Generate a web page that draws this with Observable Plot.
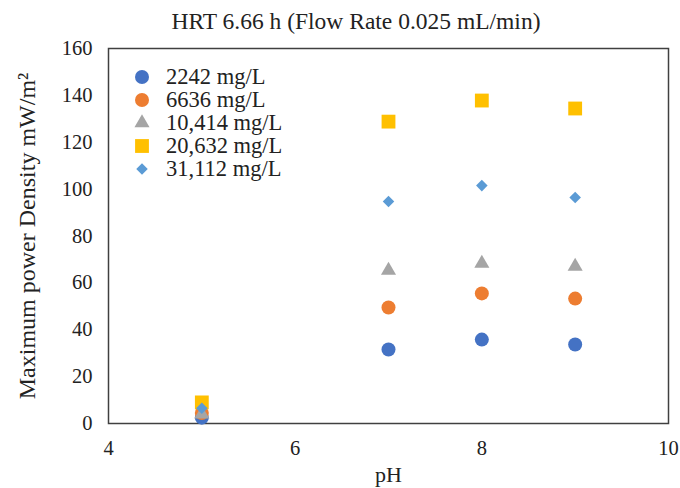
<!DOCTYPE html>
<html><head><meta charset="utf-8">
<script src="https://cdn.jsdelivr.net/npm/d3@7"></script>
<script src="https://cdn.jsdelivr.net/npm/@observablehq/plot@0.6"></script>
<style>
body{margin:0;background:#fff;font-family:"Liberation Serif","DejaVu Serif",serif;}
#wrap{position:relative;width:680px;height:488px;}
#chart{position:absolute;left:0;top:20px;}
#title{position:absolute;left:56px;width:600px;top:8px;text-align:center;font-size:23.5px;color:#222;}
#legend{position:absolute;left:130px;top:65px;font-size:22.5px;color:#222;}
.item{height:23.2px;display:flex;align-items:center;}
.item svg{width:24px;height:18px;margin-right:12px;}
g[aria-label="y-axis label"] text{font-size:24px;}
g[aria-label="x-axis label"] text{font-size:22px;}
</style></head>
<body><div id="wrap"><div id="chart"></div><div id="title">HRT 6.66 h (Flow Rate 0.025 mL/min)</div><div id="legend"></div></div>
<script>
const pH = [5, 7, 8, 9];
const series = ["2242 mg/L", "6636 mg/L", "10,414 mg/L", "20,632 mg/L", "31,112 mg/L"];
const v2242 = [2.5, 31.6, 35.8, 33.7];
const v6636 = [4.5, 49.5, 55.5, 53.3];
const v10414 = [4, 65.3, 68.3, 67];
const v20632 = [9, 128.8, 137.8, 134.4];
const v31112 = [6.5, 94.7, 101.5, 96.4];
const colors = ["#4472C4", "#ED7D31", "#A5A5A5", "#FFC000", "#5B9BD5"];
const symbols = ["circle", "circle", "triangle", "square", "diamond2"];
const radii = [7, 7, 5.6, 7.8, 5.2];
const xTicks = [4, 6, 8, 10];
const yTicks = [0, 20, 40, 60, 80, 100, 120, 140, 160];

const vals = [v2242, v6636, v10414, v20632, v31112];
const data = [];
series.forEach((s, i) => pH.forEach((p, j) => data.push({series: s, idx: i, pH: p, value: vals[i][j]})));

const marks = [Plot.frame({stroke: "#404040", strokeWidth: 1.5})];
series.forEach((s, i) => {
  marks.push(Plot.dot(data.filter(d => d.idx === i), {x: "pH", y: "value", symbol: () => symbols[i], r: radii[i], fill: colors[i], stroke: "none"}));
});

const chart = Plot.plot({
  width: 680, height: 468,
  marginLeft: 108, marginRight: 12, marginTop: 28, marginBottom: 65,
  style: {fontFamily: "Liberation Serif, DejaVu Serif, serif", fontSize: "20.5px", color: "#222", background: "transparent"},
  symbol: {type: "identity"},
  x: {domain: [4, 10], ticks: xTicks, tickFormat: d => String(d), tickSize: 0, tickPadding: 17, label: "pH", labelAnchor: "center", labelArrow: "none", labelOffset: 58},
  y: {domain: [0, 160], ticks: yTicks, tickSize: 0, tickPadding: 16, label: "Maximum power Density mW/m²", labelAnchor: "center", labelArrow: "none", labelOffset: 91},
  marks
});
document.getElementById("chart").appendChild(chart);

const leg = document.getElementById("legend");
series.forEach((s, i) => {
  const div = document.createElement("div");
  div.className = "item";
  const sym = d3.symbol().type({circle: d3.symbolCircle, triangle: d3.symbolTriangle, square: d3.symbolSquare, diamond2: d3.symbolDiamond2}[symbols[i]]).size(Math.PI * radii[i] * radii[i]);
  div.innerHTML = `<svg viewBox="-12 -9 24 18"><path d="${sym()}" fill="${colors[i]}"/></svg><span>${s}</span>`;
  leg.appendChild(div);
});
</script></body></html>
